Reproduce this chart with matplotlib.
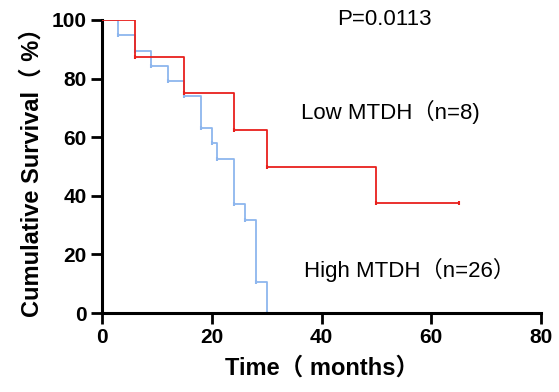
import matplotlib

matplotlib.use("Agg")

import matplotlib.pyplot as plt

# Kaplan-Meier step values (months, % surviving)
low_times = [0, 6, 15, 24, 30, 50, 65]
low_surv = [100, 87.5, 75, 62.5, 50, 37.5, 37.5]

high_times = [0, 3, 6, 9, 12, 15, 18, 20, 21, 24, 26, 28, 30]
high_surv = [100, 94.9, 89.3, 84.4, 79.2, 73.9, 63.3, 57.9, 52.6, 37.2, 31.8, 10.7, 0]

x_ticks = [0, 20, 40, 60, 80]
y_ticks = [0, 20, 40, 60, 80, 100]

p_text = "P=0.0113"
low_label = "Low MTDH（n=8)"
high_label = "High MTDH（n=26）"

plt.rcParams["font.family"] = ["Liberation Sans", "Noto Sans CJK SC", "DejaVu Sans"]

fig = plt.figure(figsize=(5.59, 3.92), dpi=100)
ax = fig.add_axes([0.1825, 0.2015, 0.7855, 0.7475])

red = "#e8201c"
blue = "#8db6ee"

ax.step(high_times, high_surv, where="post", color=blue, linewidth=1.3, zorder=2)
ax.plot(high_times[1:], high_surv[1:], linestyle="none", marker="|",
        markersize=3, markeredgewidth=1.5, color=blue, zorder=2)
ax.step(low_times, low_surv, where="post", color=red, linewidth=1.3, zorder=3)
ax.plot(low_times[1:], low_surv[1:], linestyle="none", marker="|",
        markersize=3, markeredgewidth=1.5, color=red, zorder=3)

ax.set_xlim(0, 80)
ax.set_ylim(0, 100)
ax.set_xticks(x_ticks)
ax.set_yticks(y_ticks)
ax.spines["top"].set_visible(False)
ax.spines["right"].set_visible(False)
for side in ("left", "bottom"):
    ax.spines[side].set_linewidth(2.2)
ax.tick_params(width=2, length=8, labelsize=15, pad=3)
for lab in ax.get_xticklabels() + ax.get_yticklabels():
    lab.set_fontweight("bold")

ax.set_xlabel("Time（ months）", fontsize=17, fontweight="bold", labelpad=7)
ax.set_ylabel("Cumulative Survival（ %）", fontsize=17, fontweight="bold", labelpad=6)

ax.text(51.5, 100, p_text, fontsize=16, ha="center", va="center")
ax.text(52.5, 68.5, low_label, fontsize=16, ha="center", va="center")
ax.text(56, 14.7, high_label, fontsize=16, ha="center", va="center")

fig.savefig("out.png", dpi=100)
